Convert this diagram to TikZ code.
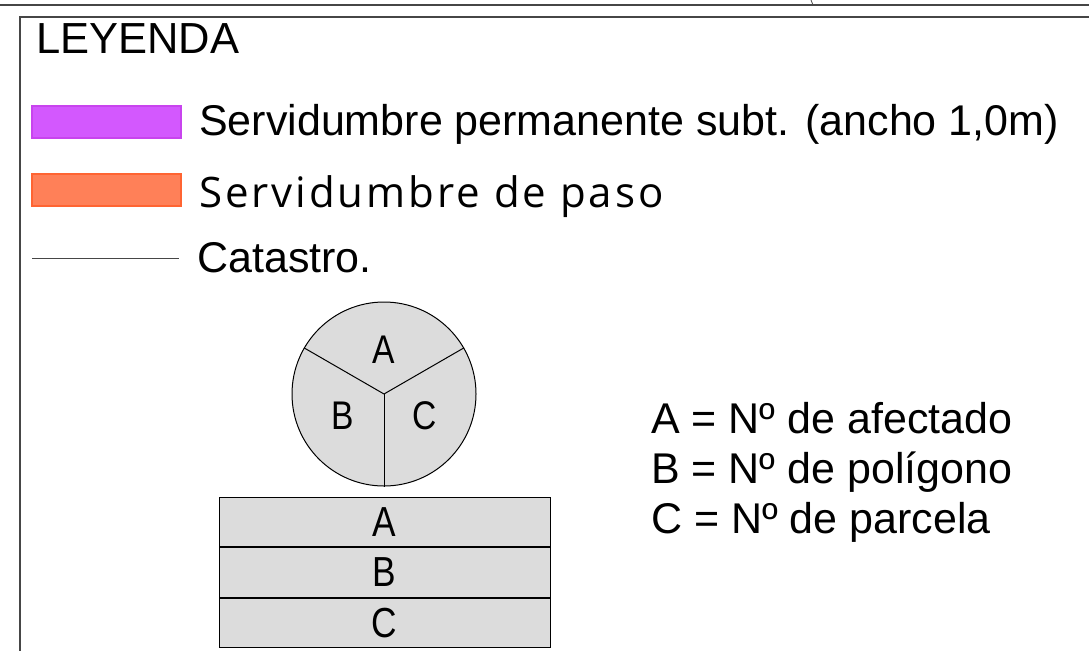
\documentclass[tikz,border=0pt]{standalone}
\usepackage{fontspec}
\setmainfont{Liberation Sans}
\newfontfamily\pasofont[LetterSpace=7]{Open Sans}
\newfontfamily\narrowfont[FakeStretch=0.84]{Liberation Sans}
\usetikzlibrary{positioning}
\definecolor{servfill}{RGB}{211,88,254}
\definecolor{servdraw}{RGB}{200,68,238}
\definecolor{pasofill}{RGB}{255,128,88}
\definecolor{pasodraw}{RGB}{255,100,50}
\definecolor{cellgray}{RGB}{220,220,220}
\definecolor{framegray}{RGB}{70,70,70}
\tikzset{
    swatch/.style={rectangle, minimum width=149pt, minimum height=32pt, inner sep=0pt, line width=1.2pt},
    legtext/.style={anchor=base west, inner sep=0pt, font=\fontsize{43}{43}\selectfont},
    cell/.style={rectangle, draw, fill=cellgray, line width=1pt, minimum width=331pt, minimum height=49.5pt, inner sep=0pt, font=\narrowfont\fontsize{42}{42}\selectfont},
    letter/.style={inner sep=0pt, font=\narrowfont\fontsize{40}{40}\selectfont}
}
\begin{document}
\begin{tikzpicture}[x=1pt, y=-1pt]
        \useasboundingbox (0,0) rectangle (1089,651);
        % frame
        \draw[framegray, line width=1.6pt] (0,5) -- (1089,5);
        \draw[framegray, line width=0.8pt] (811,0) -- (813,5);
        \draw[framegray, line width=1.6pt] (1089,16.7) -- (20,16.7) -- (20,651);
        \node[legtext, font=\fontsize{43.5}{43.5}\selectfont] (title) at (36,53) {LEYENDA};
        % legend entries
        \node[swatch, fill=servfill, draw=servdraw] (serv) at (106.5,122) {};
        \node[legtext] (servlbl) at (199,135) {Servidumbre permanente subt. (ancho 1,0m)};
        \node[swatch, fill=pasofill, draw=pasodraw] (paso) at (106.5,190) {};
        \node[legtext, font=\pasofont\fontsize{42}{42}\selectfont] (pasolbl) at (199,207) {Servidumbre de paso};
        \coordinate (cat1) at (32,258);
        \coordinate (cat2) at (179,258);
        \draw[framegray, line width=1pt] (cat1) -- (cat2);
        \node[legtext] (catlbl) at (197,272) {Catastro.};
        % circle
        \node[circle, draw, fill=cellgray, line width=1pt, minimum size=184pt, inner sep=0pt] (circ) at (384,394) {};
        \draw[line width=1pt] (circ.center) -- (circ.150);
        \draw[line width=1pt] (circ.center) -- (circ.30);
        \draw[line width=1pt] (circ.center) -- (circ.270);
        \node[letter] (ca) at (384,350) {A};
        \node[letter] (cb) at (343,416) {B};
        \node[letter] (cc) at (425,416) {C};
        % table
        \node[cell] (ta) at (384.5,522) {A};
        \node[cell, below=0pt of ta] (tb) {B};
        \node[cell, below=0pt of tb] (tc) {C};
        % key
        \node[legtext] (keya) at (651,433) {A = Nº de afectado};
        \node[legtext] (keyb) at (651,483) {B = Nº de polígono};
        \node[legtext] (keyc) at (651,533) {C = Nº de parcela};
    \end{tikzpicture}
\end{document}
